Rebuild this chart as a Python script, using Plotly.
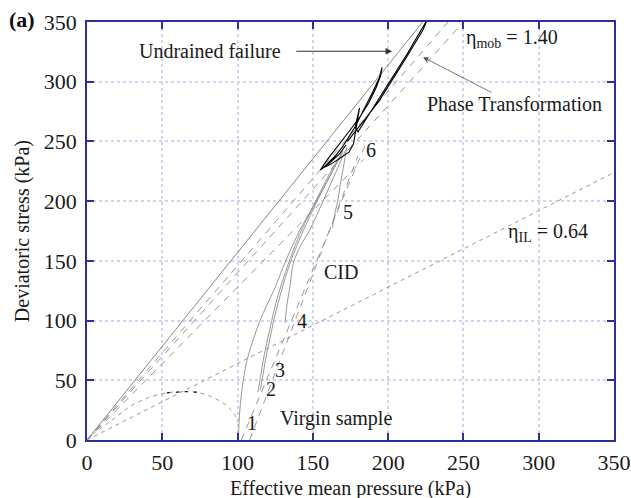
import plotly.graph_objects as go

# ---- data (p' = effective mean pressure, q = deviatoric stress, kPa) ----
p_max = 350

# stress-ratio lines through the origin
eta_failure = 1.57          # undrained failure line
eta_mob = 1.40              # mobilised stress ratio
eta_pt = 1.46               # phase transformation line
eta_aux = 1.28              # auxiliary dashed line (lower part)
eta_il = 0.64               # instability line

# virgin-sample yield curve
virgin_p = [0, 5, 12, 20, 28.5, 40, 53, 65, 73, 82, 90.4, 96, 98.3, 100]
virgin_q = [0, 6, 12.5, 20, 28, 35, 39.5, 40.5, 40, 36.5, 31, 25, 21, 15]

# drained (CID) compression paths, slope 3
cid_a_p = [102.5, 185]
cid_a_q = [0, 247.5]
cid_b_p = [108, 180]
cid_b_q = [0, 238]

# stress paths toward the cyclic stage
path1_p = [100.5, 101.5, 103.8, 106.5, 110.4, 114.9, 119.5, 125, 132, 141.5, 150, 158, 165, 170]
path1_q = [0, 25, 50, 68, 84, 100, 113, 128, 150, 176, 195, 213, 230, 242]
path2_p = [113.5, 115.5, 117.1, 120, 122.7, 125.5, 129.3, 135, 141.5, 148, 155, 162, 169]
path2_q = [40, 55, 67, 85, 100, 115, 131, 152, 173, 190, 208, 225, 240]
path3_p = [115, 117, 118.5, 121.5, 124, 127, 130.5, 136, 142.5, 149, 156, 163, 170]
path3_q = [42, 55, 67, 85, 100, 115, 131, 152, 172, 190, 208, 225, 241]
path4_p = [131.5, 133, 135, 137, 142, 148, 155, 162, 168, 172]
path4_q = [98, 115, 130, 148, 163, 176, 195, 215, 232, 243]
path5_p = [163, 164.7, 166.5, 168, 170.5, 172.5]
path5_q = [178, 190, 200, 212, 230, 245]

# cyclic loading loops
cyc_p = [172, 168, 162, 157, 155, 158, 163, 169, 175, 181, 187, 192, 195, 196,
         194, 190, 186, 182, 178, 174, 170, 165, 160, 157,
         162, 168, 174, 177, 179, 181, 178, 180, 184, 189, 195, 201, 207, 213, 218, 222, 226,
         223, 218, 212, 206, 200, 194, 188, 182, 177, 173]
cyc_q = [247, 240, 233, 228, 226, 232, 240, 250, 260, 270, 282, 295, 305, 312,
         303, 292, 282, 272, 262, 254, 246, 238, 232, 228,
         231, 236, 241, 248, 262, 278, 262, 258, 266, 276, 287, 299, 312, 324, 335, 344, 352,
         343, 332, 320, 308, 296, 284, 274, 264, 256, 250]

x_ticks = [0, 50, 100, 150, 200, 250, 300, 350]
y_ticks = [0, 50, 100, 150, 200, 250, 300, 350]

# ---- styling ----
SERIF = "Liberation Serif, Times New Roman, serif"
AXIS_BLUE = "#2e2e9c"
GRID = "#d3d5f0"
GRAY = "#8c8c8c"
TXT = "#1a1a1a"

fig = go.Figure()


def ray(eta, q_end, dash, color=GRAY, width=0.9):
    fig.add_trace(go.Scatter(x=[0, q_end / eta], y=[0, q_end], mode="lines",
                             line=dict(color=color, width=width, dash=dash),
                             hoverinfo="skip"))


ray(eta_failure, 350, "solid", color="#7a7a7a", width=0.9)
ray(eta_pt, 350, "7px,6px")
ray(eta_mob, 350, "7px,6px")
ray(eta_aux, 235, "7px,6px")
fig.add_trace(go.Scatter(x=[0, p_max], y=[0, eta_il * p_max], mode="lines",
                         line=dict(color=GRAY, width=0.9, dash="4px,4px"), hoverinfo="skip"))

fig.add_trace(go.Scatter(x=virgin_p, y=virgin_q, mode="lines", line_shape="spline",
                         line=dict(color=GRAY, width=0.9, dash="4px,4px"), hoverinfo="skip"))
fig.add_trace(go.Scatter(x=virgin_p[6:9], y=virgin_q[6:9], mode="lines",
                         line=dict(color="#111", width=1.2, dash="3px,6px"), hoverinfo="skip"))

for cp, cq in [(cid_a_p, cid_a_q), (cid_b_p, cid_b_q)]:
    fig.add_trace(go.Scatter(x=cp, y=cq, mode="lines",
                             line=dict(color=GRAY, width=0.9, dash="7px,6px"), hoverinfo="skip"))

for sp, sq in [(path1_p, path1_q), (path2_p, path2_q), (path3_p, path3_q),
               (path4_p, path4_q), (path5_p, path5_q)]:
    fig.add_trace(go.Scatter(x=sp, y=sq, mode="lines", line_shape="spline",
                             line=dict(color=GRAY, width=0.9), hoverinfo="skip"))

fig.add_trace(go.Scatter(x=cyc_p, y=cyc_q, mode="lines",
                         line=dict(color="#000", width=1.1), hoverinfo="skip"))

# ---- annotations ----
txt = dict(family=SERIF, size=20, color=TXT)
labels = [
    ("Undrained failure", 81.7, 325.5),
    ("η<sub>mob</sub> = 1.40", 282, 336),
    ("Phase Transformation", 284.2, 281),
    ("η<sub>IL</sub> = 0.64", 306, 174),
    ("CID", 168.7, 140.6),
    ("Virgin sample", 165.4, 18.4),
    ("1", 109.6, 14.2),
    ("2", 122.2, 42.7),
    ("3", 128.2, 58.6),
    ("4", 142.8, 99.6),
    ("5", 173.3, 190.8),
    ("6", 188.6, 242.7),
]
for t, x, y in labels:
    fig.add_annotation(x=x, y=y, text=t, showarrow=False, font=txt,
                       xref="x", yref="y")

fig.add_annotation(x=202.6, y=325.5, ax=138, ay=325.5, xref="x", yref="y",
                   axref="x", ayref="y", text="", showarrow=True,
                   arrowhead=2, arrowsize=1.3, arrowwidth=1, arrowcolor="#333")
fig.add_annotation(x=223.2, y=320.5, ax=269.6, ay=290.4, xref="x", yref="y",
                   axref="x", ayref="y", text="", showarrow=True,
                   arrowhead=2, arrowsize=1.3, arrowwidth=0.8, arrowcolor="#555")

# panel tag and axis titles
fig.add_annotation(x=-0.123, y=1.005, xref="paper", yref="paper", text="<b>(a)</b>",
                   xanchor="center", yanchor="middle", showarrow=False,
                   font=dict(family=SERIF, size=22, color="#111"))
fig.add_annotation(x=0.5, y=-0.115, xref="paper", yref="paper",
                   xanchor="center", yanchor="middle",
                   text="Effective mean pressure (kPa)", showarrow=False,
                   font=dict(family=SERIF, size=20, color=TXT))
fig.add_annotation(x=-0.123, y=0.5, xref="paper", yref="paper", textangle=-90,
                   xanchor="center", yanchor="middle",
                   text="Deviatoric stress (kPa)", showarrow=False,
                   font=dict(family=SERIF, size=20, color=TXT))

axis_common = dict(
    range=[0, 350], tickvals=x_ticks, automargin=False,
    showline=True, linecolor=AXIS_BLUE, linewidth=1.5, mirror="ticks",
    ticks="inside", ticklen=7, tickcolor=AXIS_BLUE, tickwidth=1.5,
    showgrid=True, gridcolor=GRID, gridwidth=1.6, griddash="dot",
    zeroline=False, tickfont=dict(family=SERIF, size=22, color=TXT),
    fixedrange=True,
)

fig.update_layout(
    width=631, height=498,
    margin=dict(l=87, r=17, t=22, b=58),
    paper_bgcolor="white", plot_bgcolor="white",
    showlegend=False,
    xaxis=dict(axis_common),
    yaxis=dict(axis_common, tickvals=y_ticks),
)
fig.update_xaxes(ticklabelstandoff=2)
fig.update_yaxes(ticklabelstandoff=4)

fig.write_html("out.html")
